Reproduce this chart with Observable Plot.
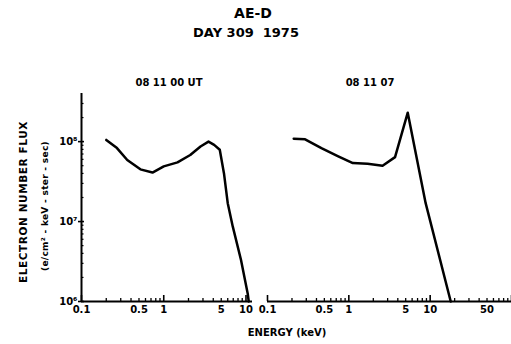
<!DOCTYPE html>
<html><head><meta charset="utf-8">
<script src="https://cdn.jsdelivr.net/npm/d3@7"></script>
<script src="https://cdn.jsdelivr.net/npm/@observablehq/plot@0.6"></script>
<style>
body{margin:0;background:#fff;}
#wrap{position:relative;width:511px;height:344px;overflow:hidden;font-family:"DejaVu Sans",sans-serif;font-weight:bold;color:#000;}
.t{position:absolute;white-space:nowrap;transform:translate(-50%,-50%);}
.r{position:absolute;white-space:nowrap;transform:translate(-50%,-50%) rotate(-90deg);}
.p{position:absolute;top:0;}
</style></head>
<body><div id="wrap">
<div class="t" style="left:253px;top:13px;font-size:14px;">AE-D</div>
<div class="t" style="left:246px;top:32px;font-size:13px;">DAY 309&nbsp;&nbsp;1975</div>
<div class="t" style="left:169px;top:82px;font-size:10px;">08 11 00 UT</div>
<div class="t" style="left:370px;top:82px;font-size:10px;">08 11 07</div>
<div class="r" style="left:23px;top:202px;font-size:10.5px;letter-spacing:0.6px;">ELECTRON NUMBER FLUX</div>
<div class="r" style="left:45px;top:206px;font-size:9px;letter-spacing:0.3px;">(e/cm² - keV - ster - sec)</div>
<div class="t" style="left:287px;top:332px;font-size:10px;">ENERGY (keV)</div>
</div>
<script>
// Panel 1: 08 11 00 UT
const energyA = [0.2, 0.27, 0.36, 0.52, 0.73, 1.0, 1.47, 2.1, 2.8, 3.5, 4.1, 4.8, 5.4, 6.0, 6.9, 8.7, 10.5, 10.8];
const fluxA   = [1.05e8, 8.3e7, 5.9e7, 4.5e7, 4.1e7, 4.9e7, 5.5e7, 6.8e7, 8.7e7, 1.0e8, 9.1e7, 7.9e7, 4.0e7, 1.7e7, 8.7e6, 3.3e6, 1.25e6, 1.0e6];
// Panel 2: 08 11 07
const energyB = [0.21, 0.29, 0.46, 0.73, 1.12, 1.7, 2.6, 3.7, 5.3, 8.8, 17.9];
const fluxB   = [1.09e8, 1.07e8, 8.3e7, 6.6e7, 5.4e7, 5.3e7, 5.0e7, 6.4e7, 2.3e8, 1.7e7, 1.0e6];

const xTicksA = [0.1, 0.5, 1, 5, 10];
const xTicksB = [0.1, 0.5, 1, 5, 10, 50];
const yTicks = [1e6, 1e7, 1e8];
const yTickLabels = ["10⁶", "10⁷", "10⁸"];
const yMinorFactors = [2, 3, 4, 5, 6, 7, 8, 9];

const xDomainA = [0.1, 12];
const xDomainB = [0.1, 100];
const yDomain = [1e6, 4e8];

function minorX(domain){
  const out=[];
  for (let d=0.1; d<=domain[1]; d*=10)
    for (let k=2;k<=9;k++){ const v=+(d*k).toPrecision(3); if (v<domain[1]) out.push(v); }
  return out;
}
function majorX(domain){
  const out=[];
  for (let d=0.1; d<=domain[1]*1.0001; d*=10) out.push(+d.toPrecision(3));
  return out;
}
function minorY(){
  const out=[];
  for (const t of yTicks) for (const k of yMinorFactors){ const v=t*k; if (v<yDomain[1]) out.push(v); }
  return out;
}

const H = 344, MT = 93, MB = 43, FH = H - MT - MB;
const fmt = d => String(d);

function panel(energy, flux, xDomain, xTicks, opts){
  const rows = energy.map((e,i)=>({e, f: flux[i]}));
  const fw = opts.width - opts.ml - opts.mr;
  const marks = [
    Plot.ruleY([1e6], {strokeWidth: 2}),
    Plot.tickX(minorX(xDomain), {x: d=>d, strokeWidth: 1.3, insetTop: FH - 3}),
    Plot.tickX(majorX(xDomain), {x: d=>d, strokeWidth: 1.6, insetTop: FH - 6}),
    Plot.text(xTicks, {x: d=>d, text: fmt, frameAnchor: "bottom", dy: 11,
      fontSize: 10, fontWeight: "bold", fill: "#000"}),
    Plot.line(rows, {x: "e", y: "f", strokeWidth: 2.5, strokeLinejoin: "round"})
  ];
  if (opts.yAxis){
    marks.push(
      Plot.ruleX([xDomain[0]], {strokeWidth: 2}),
      Plot.tickY(minorY(), {y: d=>d, strokeWidth: 1.2, insetRight: fw - 2.5}),
      Plot.tickY(yTicks, {y: d=>d, strokeWidth: 1.6, insetLeft: -3, insetRight: fw - 3}),
      Plot.text(yTicks, {y: d=>d, text: (d,i)=>yTickLabels[i], frameAnchor: "left", dx: -4,
        textAnchor: "end", fontSize: 10, fontWeight: "bold", fill: "#000"})
    );
  }
  return Plot.plot({
    width: opts.width, height: H,
    marginTop: MT, marginBottom: MB, marginLeft: opts.ml, marginRight: opts.mr,
    style: {background: "transparent", fontFamily: "DejaVu Sans, sans-serif", color: "#000", overflow: "visible"},
    x: {type: "log", domain: xDomain, axis: null},
    y: {type: "log", domain: yDomain, axis: null},
    marks
  });
}

const wrap = document.getElementById("wrap");
const pA = panel(energyA, fluxA, xDomainA, xTicksA, {width: 256, ml: 81, mr: 4, yAxis: true});
pA.classList.add("p"); pA.style.left = "0px";
wrap.appendChild(pA);
const pB = panel(energyB, fluxB, xDomainB, xTicksB, {width: 255, ml: 11, mr: 0, yAxis: false});
pB.classList.add("p"); pB.style.left = "256px";
wrap.appendChild(pB);
</script>
</body></html>
